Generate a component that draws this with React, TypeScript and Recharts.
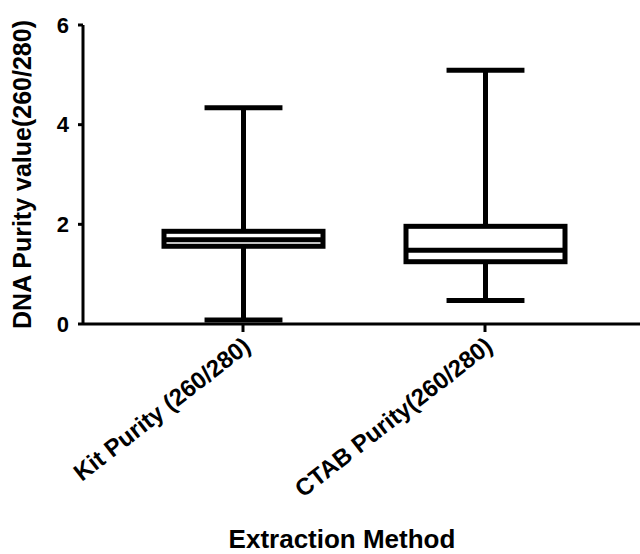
import { ComposedChart, Bar, XAxis, YAxis } from 'recharts';

const categories = ['Kit Purity (260/280)', 'CTAB Purity(260/280)'];
const mins = [0.08, 0.47];
const q1s = [1.56, 1.25];
const medians = [1.69, 1.48];
const q3s = [1.86, 1.96];
const maxs = [4.34, 5.09];
const yTicks = [0, 2, 4, 6];

const data = categories.map((name, i) => ({
  name,
  min: mins[i],
  q1: q1s[i],
  median: medians[i],
  q3: q3s[i],
  max: maxs[i],
  range: [mins[i], maxs[i]],
}));

const FONT = '"Liberation Sans", Arial, Helvetica, sans-serif';

function BoxShape(props: any) {
  const { x, y, width, height, payload } = props;
  const { min, q1, median, q3, max } = payload;
  // map a value into pixels using the bar's own scaled extent (min..max)
  const py = (v: number) => y + ((max - v) / (max - min)) * height;
  const cx = x + width / 2;
  const cap = width * 0.245;
  return (
    <g stroke="#000" strokeWidth={5}>
      <line x1={cx} x2={cx} y1={py(max)} y2={py(min)} />
      <line x1={cx - cap} x2={cx + cap} y1={py(max)} y2={py(max)} />
      <line x1={cx - cap} x2={cx + cap} y1={py(min)} y2={py(min)} />
      <rect x={x} y={py(q3)} width={width} height={py(q1) - py(q3)} fill="#fff" />
      <line x1={x} x2={x + width} y1={py(median)} y2={py(median)} />
    </g>
  );
}

function XTick({ x, y, payload }: any) {
  return (
    <g transform={`translate(${x + 9},${y + 15})`}>
      <text
        x={0}
        y={0}
        textAnchor="end"
        transform="rotate(-38)"
        fontFamily={FONT}
        fontWeight={700}
        fontSize={24}
        fill="#000"
      >
        {payload.value}
      </text>
    </g>
  );
}

function YLabel({ viewBox }: any) {
  const cy = viewBox.y + viewBox.height / 2;
  return (
    <text
      x={22}
      y={cy}
      transform={`rotate(-90, 22, ${cy})`}
      textAnchor="middle"
      dominantBaseline="central"
      fontFamily={FONT}
      fontWeight={700}
      fontSize={25}
      fill="#000"
    >
      DNA Purity value(260/280)
    </text>
  );
}

function XLabel() {
  return (
    <text
      x={342}
      y={548}
      textAnchor="middle"
      fontFamily={FONT}
      fontWeight={700}
      fontSize={26}
      fill="#000"
    >
      Extraction Method
    </text>
  );
}

export default function App() {
  return (
    <div>
      <style>{'body{margin:0;background:#fff}'}</style>
      <ComposedChart
        width={640}
        height={554}
        data={data}
        margin={{ top: 25, right: 0, bottom: 0, left: 0 }}
      >
        <XAxis
          dataKey="name"
          height={230}
          padding={{ left: 39, right: 34 }}
          axisLine={{ stroke: '#000', strokeWidth: 3 }}
          tickLine={{ stroke: '#000', strokeWidth: 3 }}
          tickSize={8}
          tick={<XTick />}
          interval={0}
          label={<XLabel />}
        />
        <YAxis
          domain={[0, 6]}
          ticks={yTicks}
          width={83}
          axisLine={{ stroke: '#000', strokeWidth: 3 }}
          tickLine={{ stroke: '#000', strokeWidth: 3 }}
          tickSize={5}
          tickMargin={9}
          tick={{ fill: '#000', fontSize: 22, fontWeight: 700, fontFamily: FONT }}
          label={<YLabel />}
        />
        <Bar dataKey="range" barSize={159} shape={<BoxShape />} isAnimationActive={false} />
      </ComposedChart>
    </div>
  );
}
